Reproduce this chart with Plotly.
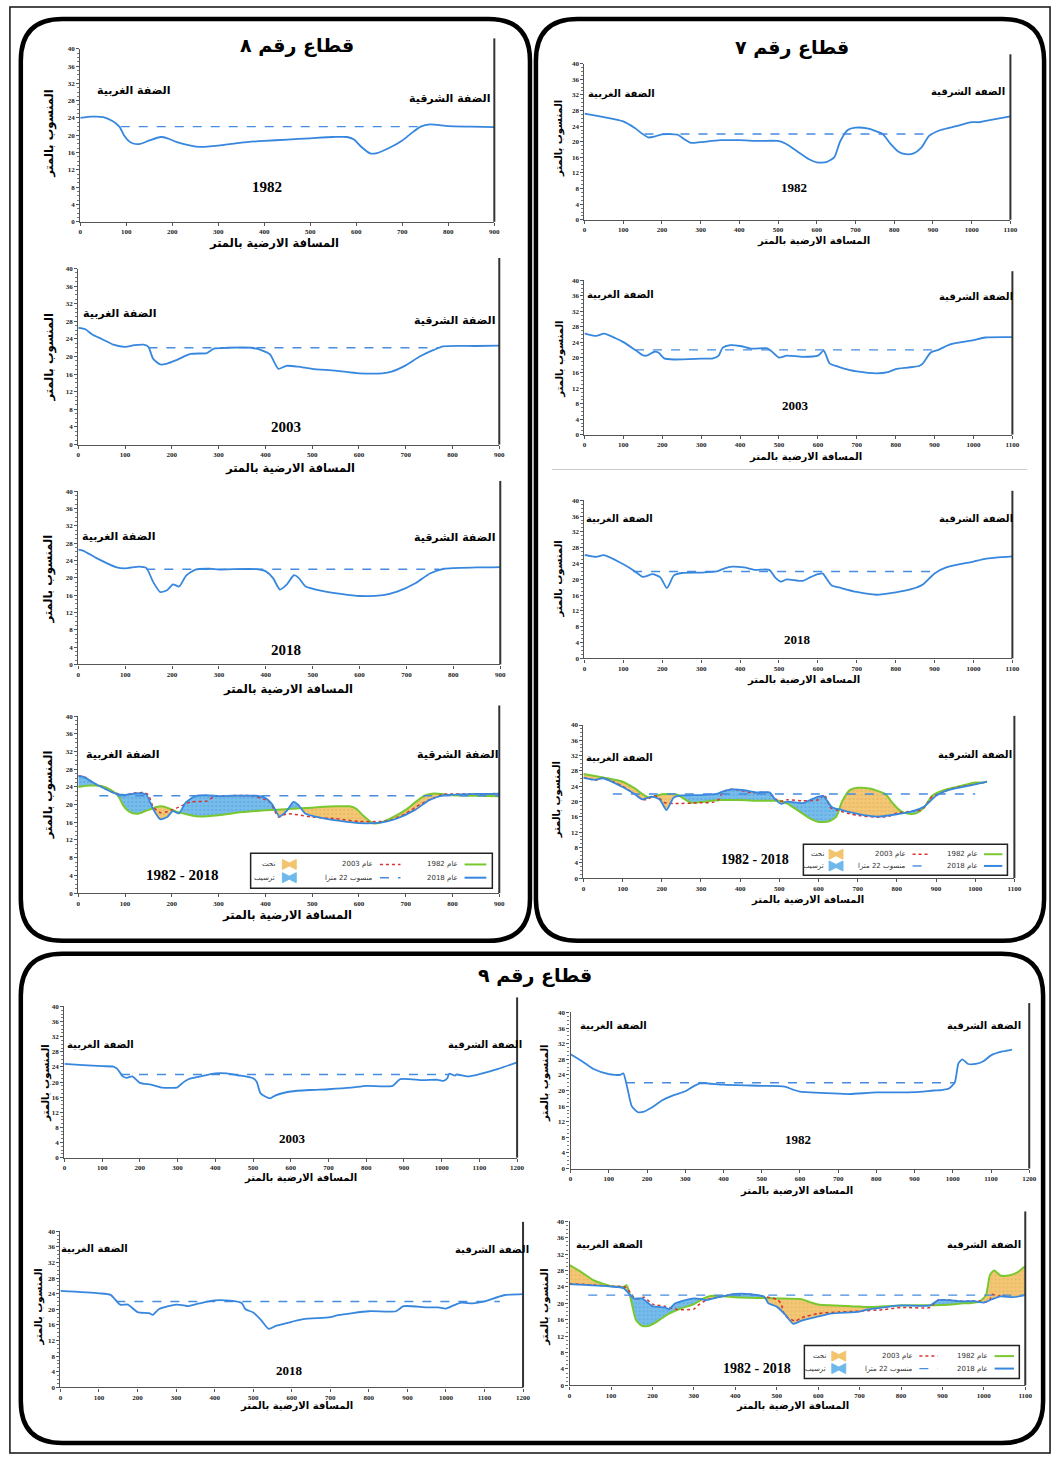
import numpy as np
import plotly.graph_objects as go

W, H = 1062, 1460
WATER_LEVEL = 22

# ---------------- Section 8 (x: 0-900) ----------------
s8_x_1982 = [0, 25, 50, 70, 85, 95, 105, 115, 130, 150, 175, 190, 210, 240, 260, 300, 350, 400, 450, 500, 550, 580, 595, 610, 630, 645, 670, 700, 720, 740, 760, 800, 850, 900]
s8_y_1982 = [24.0, 24.3, 24.2, 23.3, 22.0, 20.0, 18.7, 18.1, 18.0, 18.8, 19.6, 19.3, 18.4, 17.6, 17.3, 17.6, 18.3, 18.7, 19.0, 19.3, 19.6, 19.6, 19.0, 17.4, 15.8, 15.9, 17.0, 18.8, 20.5, 22.0, 22.5, 22.1, 22.0, 21.9]
s8_x_2003 = [0, 15, 30, 50, 75, 100, 120, 140, 150, 160, 175, 190, 210, 240, 275, 290, 320, 370, 395, 410, 420, 428, 445, 470, 500, 550, 600, 650, 670, 700, 730, 760, 780, 850, 900]
s8_y_2003 = [26.5, 26.2, 25.0, 24.0, 22.7, 22.2, 22.6, 22.7, 22.2, 19.5, 18.2, 18.4, 19.2, 20.6, 20.8, 21.8, 22.0, 22.0, 21.3, 20.5, 18.5, 17.2, 17.9, 17.7, 17.2, 16.8, 16.2, 16.2, 16.6, 18.0, 20.0, 21.5, 22.3, 22.4, 22.5]
s8_x_2018 = [0, 10, 40, 80, 100, 130, 145, 160, 175, 190, 202, 215, 230, 250, 280, 300, 330, 380, 400, 415, 430, 445, 460, 470, 485, 520, 560, 600, 650, 680, 720, 750, 780, 850, 900]
s8_y_2018 = [26.5, 26.3, 24.5, 22.5, 22.2, 22.6, 22.3, 19.0, 16.7, 17.2, 18.5, 18.0, 20.5, 21.9, 22.1, 21.9, 22.0, 22.0, 21.5, 20.0, 17.3, 18.5, 20.6, 20.0, 18.0, 17.0, 16.3, 15.8, 16.0, 16.8, 18.8, 21.0, 22.1, 22.4, 22.5]

# ---------------- Section 7 (x: 0-1100) ----------------
s7_x_1982 = [0, 50, 100, 130, 150, 165, 180, 200, 240, 260, 275, 300, 350, 400, 450, 500, 520, 550, 580, 600, 625, 645, 660, 680, 700, 730, 770, 790, 810, 830, 850, 870, 890, 920, 960, 1000, 1020, 1050, 1100]
s7_y_1982 = [27.2, 26.3, 25.2, 23.5, 22.0, 21.1, 21.3, 21.9, 21.8, 20.5, 19.7, 19.9, 20.4, 20.4, 20.2, 20.2, 19.5, 17.5, 15.5, 14.7, 14.8, 16.0, 20.0, 23.0, 23.6, 23.4, 22.0, 19.5, 17.5, 16.8, 17.0, 18.5, 21.5, 23.0, 24.0, 25.0, 25.0, 25.6, 26.5]
s7_x_2003 = [0, 30, 50, 80, 100, 130, 150, 160, 180, 190, 205, 230, 300, 330, 345, 355, 375, 400, 430, 470, 480, 500, 520, 560, 600, 615, 630, 650, 680, 700, 750, 780, 800, 830, 860, 870, 890, 910, 940, 1000, 1030, 1100]
s7_y_2003 = [26.3, 25.6, 26.2, 25.0, 24.0, 22.0, 20.6, 20.5, 21.5, 21.3, 19.8, 19.5, 19.7, 19.8, 20.5, 22.5, 23.2, 23.0, 22.3, 22.4, 21.7, 20.0, 20.5, 20.2, 20.5, 21.8, 18.5, 17.7, 16.8, 16.4, 15.9, 16.2, 17.0, 17.4, 17.8, 18.5, 21.3, 22.0, 23.4, 24.5, 25.2, 25.3]
s7_x_2018 = [0, 30, 50, 100, 130, 150, 175, 195, 212, 230, 250, 300, 340, 360, 380, 410, 440, 475, 490, 505, 520, 560, 580, 600, 612, 635, 660, 700, 750, 800, 840, 870, 900, 930, 1000, 1030, 1100]
s7_y_2018 = [26.2, 25.7, 26.1, 23.8, 22.0, 20.6, 21.3, 20.5, 17.8, 21.0, 21.6, 21.7, 22.0, 22.8, 23.2, 23.0, 22.4, 22.4, 20.5, 19.4, 20.0, 19.6, 20.5, 21.3, 21.5, 18.5, 17.8, 16.8, 16.1, 16.7, 17.5, 18.7, 21.5, 23.0, 24.5, 25.2, 25.8]

# ---------------- Section 9 (x: 0-1200) ----------------
s9_x_1982 = [0, 30, 60, 100, 130, 138, 150, 160, 175, 190, 210, 240, 270, 300, 320, 340, 360, 400, 500, 560, 580, 600, 700, 730, 800, 900, 950, 970, 990, 1005, 1015, 1025, 1040, 1060, 1080, 1100, 1130, 1155]
s9_y_1982 = [29.3, 27.5, 25.5, 24.2, 24.0, 24.4, 20.0, 16.0, 14.5, 14.5, 15.5, 17.5, 18.8, 19.8, 21.0, 21.8, 21.8, 21.5, 21.2, 21.0, 20.3, 19.7, 19.2, 19.1, 19.5, 19.6, 20.0, 20.1, 20.5, 22.0, 27.0, 28.0, 26.8, 26.8, 27.5, 29.0, 30.0, 30.5]
s9_x_2003 = [0, 50, 100, 130, 140, 155, 165, 180, 200, 230, 260, 300, 310, 330, 360, 400, 430, 460, 500, 510, 520, 545, 560, 600, 650, 700, 760, 800, 870, 890, 950, 990, 1005, 1015, 1020, 1035, 1040, 1070, 1100, 1150, 1200]
s9_y_2003 = [24.8, 24.5, 24.2, 24.1, 23.5, 21.5, 21.1, 21.5, 19.8, 19.3, 18.5, 18.6, 19.5, 20.8, 21.5, 22.3, 22.3, 21.8, 21.0, 20.0, 17.0, 15.7, 16.5, 17.5, 17.9, 18.1, 18.5, 19.0, 19.0, 20.8, 20.5, 20.6, 20.3, 21.0, 22.2, 21.7, 22.0, 21.5, 22.1, 23.5, 25.2]
s9_x_2018 = [0, 100, 130, 155, 175, 200, 230, 240, 255, 280, 300, 320, 330, 360, 400, 440, 470, 480, 500, 520, 540, 560, 600, 630, 700, 720, 800, 870, 890, 950, 980, 1000, 1020, 1040, 1070, 1100, 1150, 1200]
s9_y_2018 = [24.7, 24.1, 23.7, 21.2, 21.2, 19.3, 19.0, 18.6, 20.0, 20.8, 21.2, 21.0, 20.8, 21.5, 22.3, 22.2, 21.6, 20.0, 19.2, 17.3, 15.0, 15.8, 16.8, 17.5, 18.0, 18.5, 19.5, 19.5, 20.8, 20.5, 20.5, 20.2, 21.0, 21.7, 21.5, 22.0, 23.6, 23.9]

# water level (22 m) dashed line extents [start, end] per chart
level_extent = {
    "A1": [88, 735], "A2": [150, 770], "A3": [145, 770], "A4": [45, 900],
    "B1": [155, 890], "B2": [130, 905], "B3": [125, 910], "B4": [75, 1000],
    "C1": [150, 1020], "C2": [145, 1005], "C3": [145, 1140], "C4": [45, 1100],
}

# ---------------- helpers ----------------
def fx(px):
    return px / W


def fy(py):
    return 1 - py / H


BLUE = "rgb(55,135,222)"
GREEN = "rgb(122,200,48)"
RED = "rgb(214,50,50)"
DASH = "rgb(70,140,225)"
YEL_FILL = "rgba(242,196,110,0.95)"
BLU_FILL = "rgba(110,185,235,0.95)"
AR_FONT = "DejaVu Sans"
SERIF = "Liberation Serif"

# key, x0px, x1px, y(40)px, y(0)px, xmax
specs = [
    ("A1", 79, 497, 45, 219, 900),
    ("A2", 77, 502, 266, 443, 900),
    ("A3", 77, 503, 490, 664, 900),
    ("A4", 77, 502, 716, 894, 900),
    ("B1", 588, 1018, 60, 217, 1100),
    ("B2", 588, 1020, 278, 433, 1100),
    ("B3", 588, 1020, 499, 658, 1100),
    ("B4", 587, 1022, 725, 879, 1100),
    ("C1", 63, 520, 1008, 1160, 1200),
    ("C2", 574, 1037, 1014, 1171, 1200),
    ("C3", 59, 526, 1234, 1391, 1200),
    ("C4", 573, 1033, 1224, 1389, 1100),
]
idx = {s[0]: i + 1 for i, s in enumerate(specs)}

fig = go.Figure()
layout = dict(
    width=W, height=H, margin=dict(l=0, r=0, t=0, b=0),
    paper_bgcolor="white", plot_bgcolor="white", showlegend=False,
)
shapes = []
annotations = []

for key, x0, x1, yt, yb, xmax in specs:
    n = idx[key]
    sfx = "" if n == 1 else str(n)
    layout["xaxis" + sfx] = dict(
        domain=[fx(x0), fx(x1)], range=[0, xmax], anchor="y" + sfx,
        showline=True, linecolor="#555", linewidth=1.3, ticks="outside", ticklen=3,
        tickcolor="#555", dtick=100, showgrid=False, zeroline=False,
        tickfont=dict(family=SERIF, size=7, color="#222", weight="bold"),
    )
    layout["yaxis" + sfx] = dict(
        domain=[fy(yb), fy(yt)], range=[0, 40], anchor="x" + sfx,
        showline=True, linecolor="#555", linewidth=1.3, ticks="outside", ticklen=3,
        tickcolor="#555", dtick=4, showgrid=False, zeroline=False,
        minor=dict(ticks="outside", ticklen=2, dtick=1, tickcolor="#777"),
        tickfont=dict(family=SERIF, size=7, color="#222", weight="bold"),
    )
    # right-hand frame line
    shapes.append(dict(type="line", xref=f"x{sfx} domain", yref=f"y{sfx} domain",
                       x0=1, x1=1, y0=0, y1=1.06, line=dict(color="#333", width=2)))


def clip(xs, ys, xlim):
    xs = np.asarray(xs, float)
    ys = np.asarray(ys, float)
    keep = xs <= xlim
    cx, cy = list(xs[keep]), list(ys[keep])
    if xs.max() > xlim and (len(cx) == 0 or cx[-1] < xlim):
        cx.append(xlim)
        cy.append(float(np.interp(xlim, xs, ys)))
    return cx, cy


def add_profile(key, xs, ys, color=BLUE, width=1.8, dash=None):
    n = idx[key]
    sfx = "" if n == 1 else str(n)
    fig.add_trace(go.Scatter(
        x=xs, y=ys, mode="lines", xaxis="x" + sfx, yaxis="y" + sfx,
        line=dict(color=color, width=width, shape="spline", smoothing=0.6, dash=dash),
        hoverinfo="skip"))


def add_level(key):
    n = idx[key]
    sfx = "" if n == 1 else str(n)
    a, b = level_extent[key]
    fig.add_trace(go.Scatter(
        x=[a, b], y=[WATER_LEVEL, WATER_LEVEL], mode="lines", xaxis="x" + sfx, yaxis="y" + sfx,
        line=dict(color=DASH, width=1.4, dash="dash"), hoverinfo="skip"))


def add_fills(key, xa, ya, xb, yb):
    n = idx[key]
    sfx = "" if n == 1 else str(n)
    xa, ya, xb, yb = map(lambda v: np.asarray(v, float), (xa, ya, xb, yb))
    lo = max(xa.min(), xb.min())
    hi = min(xa.max(), xb.max())
    grid = np.unique(np.concatenate([xa, xb]))
    grid = grid[(grid >= lo) & (grid <= hi)]
    ia = np.interp(grid, xa, ya)
    ib = np.interp(grid, xb, yb)
    d = ib - ia
    pts = []
    for i in range(len(grid)):
        pts.append((grid[i], ia[i], ib[i], d[i]))
        if i < len(grid) - 1 and d[i] * d[i + 1] < 0:
            t = d[i] / (d[i] - d[i + 1])
            xc = grid[i] + t * (grid[i + 1] - grid[i])
            yc = ia[i] + t * (ia[i + 1] - ia[i])
            pts.append((xc, yc, yc, 0.0))
    segs, cur = [], [pts[0]]
    for p in pts[1:]:
        cur.append(p)
        if p[3] == 0.0:
            segs.append(cur)
            cur = [p]
    segs.append(cur)
    for s in segs:
        ds = sum(p[3] for p in s)
        if len(s) < 2 or abs(ds) < 1e-9:
            continue
        px_ = [p[0] for p in s] + [p[0] for p in reversed(s)]
        py_ = [p[1] for p in s] + [p[2] for p in reversed(s)]
        col = BLU_FILL if ds > 0 else YEL_FILL
        fg = "rgba(40,120,190,0.55)" if ds > 0 else "rgba(200,140,40,0.55)"
        fig.add_trace(go.Scatter(
            x=px_, y=py_, mode="lines", fill="toself", fillcolor=col,
            fillpattern=dict(shape=".", fgcolor=fg, bgcolor=col, size=4, solidity=0.2),
            line=dict(width=0, color=col), xaxis="x" + sfx, yaxis="y" + sfx, hoverinfo="skip"))


# ---------------- single-year profiles ----------------
single = [
    ("A1", s8_x_1982, s8_y_1982), ("A2", s8_x_2003, s8_y_2003), ("A3", s8_x_2018, s8_y_2018),
    ("B1", s7_x_1982, s7_y_1982), ("B2", s7_x_2003, s7_y_2003), ("B3", s7_x_2018, s7_y_2018),
    ("C1", s9_x_2003, s9_y_2003), ("C2", s9_x_1982, s9_y_1982), ("C3", s9_x_2018, s9_y_2018),
]
for key, xs, ys in single:
    add_level(key)
    add_profile(key, xs, ys)

# ---------------- comparison charts ----------------
comps = [
    ("A4", (s8_x_1982, s8_y_1982), (s8_x_2003, s8_y_2003), (s8_x_2018, s8_y_2018), 900, 900),
    ("B4", (s7_x_1982, s7_y_1982), (s7_x_2003, s7_y_2003), (s7_x_2018, s7_y_2018), 1030, 1030),
    ("C4", (s9_x_1982, s9_y_1982), (s9_x_2003, s9_y_2003), (s9_x_2018, s9_y_2018), 1200, 1060),
]
for key, d82, d03, d18, lim, lim03 in comps:
    x82, y82 = clip(*d82, lim)
    x03, y03 = clip(*d03, lim03)
    x18, y18 = clip(*d18, lim)
    add_fills(key, x82, y82, x18, y18)
    add_profile(key, x82, y82, color=GREEN, width=2.0)
    add_profile(key, x03, y03, color=RED, width=1.5, dash="dot")
    add_profile(key, x18, y18, color=BLUE, width=1.8)
    add_level(key)


# ---------------- text ----------------
def ann(text, px, py, size, family=AR_FONT, bold=True, angle=0, color="black", xanchor="center"):
    annotations.append(dict(
        text=text, x=fx(px), y=fy(py), xref="paper", yref="paper", showarrow=False,
        xanchor=xanchor, yanchor="middle", textangle=angle,
        font=dict(family=family, size=size, color=color, weight="bold" if bold else "normal")))


RLE, PDF = "\u202b", "\u202c"
ann(RLE + "قطاع رقم ٨" + PDF, 298, 42, 19)
ann(RLE + "قطاع رقم ٧" + PDF, 798, 44, 19)
ann(RLE + "قطاع رقم ٩" + PDF, 538, 977, 19)

west_lbl = "الضفة الغربية"
east_lbl = "الضفة الشرقية"
banks = {
    "A1": ((133, 87), (452, 95), 11), "A2": ((119, 311), (457, 318), 11),
    "A3": ((118, 535), (457, 536), 11), "A4": ((122, 755), (460, 755), 11),
    "B1": ((625, 90), (975, 88), 10), "B2": ((624, 293), (983, 295), 10),
    "B3": ((623, 518), (983, 518), 10), "B4": ((623, 758), (982, 755), 10),
    "C1": ((99, 1047), (488, 1047), 10), "C2": ((617, 1028), (991, 1028), 10),
    "C3": ((93, 1252), (495, 1253), 10), "C4": ((613, 1248), (991, 1248), 10),
}
for key, (w, e, sz) in banks.items():
    ann(west_lbl, w[0], w[1], sz)
    ann(east_lbl, e[0], e[1], sz)

years = [
    ("1982", 268, 184, 15), ("2003", 287, 425, 15), ("2018", 287, 650, 15), ("1982 - 2018", 182, 876, 15),
    ("1982", 800, 185, 13), ("2003", 801, 404, 13), ("2018", 803, 639, 13), ("1982 - 2018", 760, 860, 14),
    ("2003", 293, 1141, 13), ("1982", 804, 1142, 13), ("2018", 290, 1374, 13), ("1982 - 2018", 762, 1372, 14),
]
for t, px, py, sz in years:
    ann(t, px, py, sz, family=SERIF)

xt = "المسافة الارضية بالمتر"
yt = "المنسوب بالمتر"
xtitles = [(275, 240, 11.5), (291, 467, 11.5), (289, 689, 11.5), (288, 916, 11.5),
           (819, 238, 10), (811, 455, 10), (809, 680, 10), (813, 901, 10),
           (301, 1180, 10), (802, 1194, 10), (297, 1410, 10), (798, 1410, 10)]
for px, py, sz in xtitles:
    ann(xt, px, py, sz)
ytitles = [(48, 130, 11.5), (47, 355, 11.5), (47, 578, 11.5), (47, 795, 11.5),
           (563, 135, 10), (563, 357, 10), (562, 578, 10), (560, 800, 10),
           (44, 1085, 10), (548, 1085, 10), (37, 1310, 10), (548, 1310, 10)]
for px, py, sz in ytitles:
    ann(yt, px, py, sz, angle=-90)


# ---------------- legends for comparison charts ----------------
def legend_box(x0, y0, x1, y1):
    w, h = x1 - x0, y1 - y0
    shapes.append(dict(type="rect", xref="paper", yref="paper", x0=fx(x0), x1=fx(x1), y0=fy(y1), y1=fy(y0),
                       line=dict(color="#222", width=1.5), fillcolor="white", layer="above"))
    r1, r2 = y0 + 0.32 * h, y0 + 0.70 * h

    def seg(xa, xb, yy, color, dash, width):
        shapes.append(dict(type="line", xref="paper", yref="paper", x0=fx(xa), x1=fx(xb), y0=fy(yy), y1=fy(yy),
                           line=dict(color=color, width=width, dash=dash), layer="above"))

    def bow(cx, cy, color):
        pts = [(cx - 7, cy - 5), (cx, cy - 1.5), (cx + 7, cy - 5), (cx + 7, cy + 5), (cx, cy + 1.5), (cx - 7, cy + 5)]
        path = "M " + " L ".join(f"{fx(a):.5f},{fy(b):.5f}" for a, b in pts) + " Z"
        shapes.append(dict(type="path", xref="paper", yref="paper", path=path, fillcolor=color,
                           line=dict(color=color, width=1), layer="above"))

    def txt(t, xr, yy):
        annotations.append(dict(text=t, x=fx(xr), y=fy(yy), xref="paper", yref="paper", showarrow=False,
                                xanchor="right", yanchor="middle",
                                font=dict(family=AR_FONT, size=7, color="#333")))

    seg(x0 + 0.885 * w, x0 + 0.975 * w, r1, GREEN, "solid", 2)
    txt(RLE + "عام 1982" + PDF, x0 + 0.865 * w, r1)
    seg(x0 + 0.885 * w, x0 + 0.975 * w, r2, BLUE, "solid", 2)
    txt(RLE + "عام 2018" + PDF, x0 + 0.865 * w, r2)
    seg(x0 + 0.535 * w, x0 + 0.62 * w, r1, RED, "dot", 1.5)
    txt(RLE + "عام 2003" + PDF, x0 + 0.515 * w, r1)
    seg(x0 + 0.535 * w, x0 + 0.62 * w, r2, DASH, "dash", 1.4)
    txt(RLE + "منسوب 22 مترا" + PDF, x0 + 0.515 * w, r2)
    bow(x0 + 0.16 * w, r1, "rgb(242,196,110)")
    txt("نحت", x0 + 0.11 * w, r1)
    bow(x0 + 0.16 * w, r2, "rgb(110,185,235)")
    txt("ترسيب", x0 + 0.11 * w, r2)


legend_box(251, 854, 495, 889)
legend_box(809, 845, 1015, 876)
legend_box(810, 1349, 1027, 1382)


# ---------------- panel frames ----------------
def rrect(x0, y0, x1, y1, r):
    def P(a, b):
        return f"{fx(a):.5f},{fy(b):.5f}"
    return (f"M {P(x0 + r, y0)} L {P(x1 - r, y0)} Q {P(x1, y0)} {P(x1, y0 + r)} "
            f"L {P(x1, y1 - r)} Q {P(x1, y1)} {P(x1 - r, y1)} L {P(x0 + r, y1)} "
            f"Q {P(x0, y1)} {P(x0, y1 - r)} L {P(x0, y0 + r)} Q {P(x0, y0)} {P(x0 + r, y0)} Z")


for (a, b, c, d) in [(19, 15, 533, 942), (539, 15, 1052, 942), (19, 955, 1051, 1447)]:
    shapes.append(dict(type="path", xref="paper", yref="paper", path=rrect(a, b, c, d, 42),
                       line=dict(color="black", width=4.5), layer="above"))

# outer thin frame
shapes.append(dict(type="rect", xref="paper", yref="paper", x0=fx(8), x1=fx(1058), y0=fy(1457), y1=fy(3),
                   line=dict(color="#111", width=1.5)))
# thin separator in section 7 panel
shapes.append(dict(type="line", xref="paper", yref="paper", x0=fx(555), x1=fx(1035), y0=fy(468), y1=fy(468),
                   line=dict(color="#ccc", width=1)))

layout["shapes"] = shapes
layout["annotations"] = annotations
fig.update_layout(**layout)
fig.write_html("out.html", config={"displayModeBar": False},
               post_script="document.body.style.margin='0px';document.body.style.overflow='hidden';")
